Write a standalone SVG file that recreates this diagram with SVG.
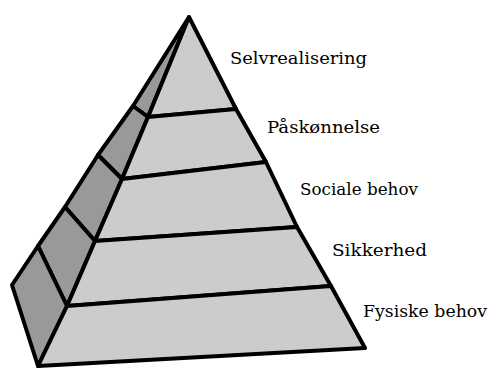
<svg xmlns="http://www.w3.org/2000/svg" width="489" height="368" viewBox="0 0 489 368">
<style>
.front{fill:#cccccc;stroke:#000;stroke-width:4;stroke-linejoin:round}
.side{fill:#999999;stroke:#000;stroke-width:4;stroke-linejoin:round}
.lbl{font-family:"DejaVu Serif","Liberation Serif",serif;font-size:16px;fill:#000}
</style>
<rect width="489" height="368" fill="#ffffff"/>
<g id="level-selvrealisering">
<polygon class="side" points="189,17 133,106 148,117"/>
<polygon class="front" points="189,17 236,109 148,117"/>
<text class="lbl" x="230" y="64" textLength="137" lengthAdjust="spacingAndGlyphs">Selvrealisering</text>
</g>
<g id="level-paaskoennelse">
<polygon class="side" points="133,106 98,155 122,179 148,117"/>
<polygon class="front" points="148,117 236,109 266,162 122,179"/>
<text class="lbl" x="267" y="133" textLength="113" lengthAdjust="spacingAndGlyphs">Påskønnelse</text>
</g>
<g id="level-sociale-behov">
<polygon class="side" points="98,155 65,207 95,241 122,179"/>
<polygon class="front" points="122,179 266,162 297,227 95,241"/>
<text class="lbl" x="300" y="195" textLength="118" lengthAdjust="spacingAndGlyphs">Sociale behov</text>
</g>
<g id="level-sikkerhed">
<polygon class="side" points="65,207 38,246 67,306 95,241"/>
<polygon class="front" points="95,241 297,227 331,286 67,306"/>
<text class="lbl" x="332" y="256" textLength="95" lengthAdjust="spacingAndGlyphs">Sikkerhed</text>
</g>
<g id="level-fysiske-behov">
<polygon class="side" points="38,246 12,285 38,366 67,306"/>
<polygon class="front" points="67,306 331,286 365,348 38,366"/>
<text class="lbl" x="363" y="317" textLength="124" lengthAdjust="spacingAndGlyphs">Fysiske behov</text>
</g>
<g id="connectors"></g>
</svg>
